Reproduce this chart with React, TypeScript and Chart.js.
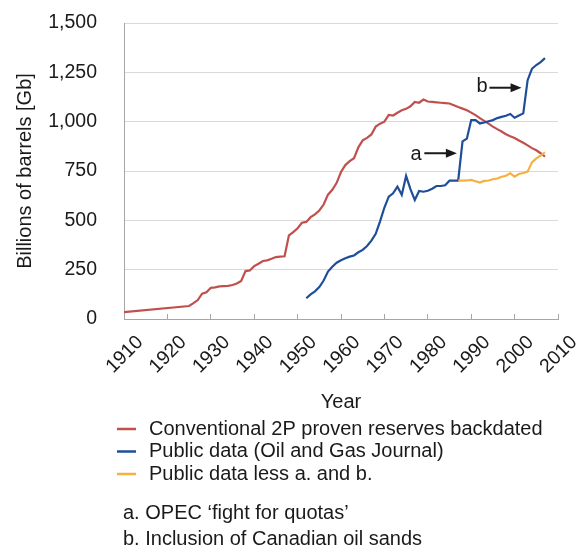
import { useEffect, useRef } from 'react';
import { Chart, registerables } from 'chart.js';

Chart.register(...registerables);

// ---- Data ----
const conventionalYears = [1910, 1925, 1926, 1927, 1928, 1929, 1930, 1931, 1932, 1933, 1934, 1935, 1936, 1937, 1938, 1939, 1940, 1941, 1942, 1943, 1944, 1945, 1946, 1947, 1948, 1949, 1950, 1951, 1952, 1953, 1954, 1955, 1956, 1957, 1958, 1959, 1960, 1961, 1962, 1963, 1964, 1965, 1966, 1967, 1968, 1969, 1970, 1971, 1972, 1973, 1974, 1975, 1976, 1977, 1978, 1979, 1980, 1981, 1982, 1983, 1984, 1985, 1986, 1987, 1988, 1989, 1990, 1991, 1992, 1993, 1994, 1995, 1996, 1997, 1998, 1999, 2000, 2001, 2002, 2003, 2004, 2005, 2006, 2007];
const conventionalValues = [35, 66, 80, 96, 128, 135, 158, 160, 165, 167, 168, 172, 180, 193, 243, 246, 268, 280, 294, 297, 305, 314, 316, 318, 424, 440, 460, 488, 492, 516, 530, 550, 580, 630, 655, 690, 745, 780, 800, 815, 870, 905, 918, 935, 975, 990, 1000, 1034, 1031, 1045, 1058, 1065, 1078, 1100, 1096, 1112, 1102, 1100, 1098, 1096, 1094, 1092, 1083, 1074, 1066, 1058, 1046, 1033, 1018, 1004, 990, 975, 962, 950, 936, 926, 917, 905, 893, 880, 866, 855, 840, 823];

const publicYears = [1952, 1953, 1954, 1955, 1956, 1957, 1958, 1959, 1960, 1961, 1962, 1963, 1964, 1965, 1966, 1967, 1968, 1969, 1970, 1971, 1972, 1973, 1974, 1975, 1976, 1977, 1978, 1979, 1980, 1981, 1982, 1983, 1984, 1985, 1986, 1987, 1988, 1989, 1990, 1991, 1992, 1993, 1994, 1995, 1996, 1997, 1998, 1999, 2000, 2001, 2002, 2003, 2004, 2005, 2006, 2007];
const publicValues = [105, 125, 140, 162, 195, 240, 265, 285, 298, 308, 316, 322, 338, 350, 370, 397, 432, 495, 565, 620, 637, 671, 629, 725, 658, 603, 649, 645, 650, 660, 674, 674, 678, 701, 701, 701, 900, 914, 1008, 1008, 991, 996, 1002, 1008, 1018, 1024, 1030, 1039, 1020, 1031, 1042, 1210, 1268, 1287, 1302, 1322];

const lessYears = [1987, 1988, 1989, 1990, 1991, 1992, 1993, 1994, 1995, 1996, 1997, 1998, 1999, 2000, 2001, 2002, 2003, 2004, 2005, 2006, 2007];
const lessValues = [701, 701, 702, 705, 698, 691, 700, 702, 708, 712, 721, 726, 738, 721, 735, 740, 747, 794, 814, 828, 845];

const seriesLabels = [
  'Conventional 2P proven reserves backdated',
  'Public data (Oil and Gas Journal)',
  'Public data less a. and b.',
];
const seriesColors = ['#c0504d', '#1f4e99', '#f6b040'];

const yTickValues = [0, 250, 500, 750, 1000, 1250, 1500];
const xTickYears = [1910, 1920, 1930, 1940, 1950, 1960, 1970, 1980, 1990, 2000, 2010];

const notes = ['a. OPEC \u2018fight for quotas\u2019', 'b. Inclusion of Canadian oil sands'];

// annotation arrows, in data coordinates (year, Gb)
const annotations = [
  { label: 'a', textX: 1977.3, textY: 833, fromX: 1979.2, toX: 1986.7, y: 840 },
  { label: 'b', textX: 1992.5, textY: 1176, fromX: 1994.2, toX: 2001.6, y: 1172 },
];

const FONT = '"Liberation Sans", Arial, Helvetica, sans-serif';
const FS = 19.5;
const FS_TEXT = 20;
const TEXT = '#1a1a1a';

const toPoints = (xs: number[], ys: number[]) => xs.map((x, i) => ({ x, y: ys[i] }));

const annotationPlugin = {
  id: 'arrowNotes',
  afterDatasetsDraw(chart: any) {
    const { ctx, scales } = chart;
    const xs = scales.x;
    const ys = scales.y;
    ctx.save();
    ctx.fillStyle = TEXT;
    ctx.strokeStyle = TEXT;
    ctx.font = `${FS_TEXT}px ${FONT}`;
    ctx.textAlign = 'center';
    ctx.textBaseline = 'middle';
    for (const a of annotations) {
      ctx.fillText(a.label, xs.getPixelForValue(a.textX), ys.getPixelForValue(a.textY));
      const x1 = xs.getPixelForValue(a.fromX);
      const x2 = xs.getPixelForValue(a.toX);
      const y = ys.getPixelForValue(a.y);
      ctx.lineWidth = 2;
      ctx.beginPath();
      ctx.moveTo(x1, y);
      ctx.lineTo(x2 - 8, y);
      ctx.stroke();
      ctx.beginPath();
      ctx.moveTo(x2, y);
      ctx.lineTo(x2 - 11, y - 4.5);
      ctx.lineTo(x2 - 11, y + 4.5);
      ctx.closePath();
      ctx.fill();
    }
    ctx.restore();
  },
};

const legendPlugin = {
  id: 'customLegend',
  afterDraw(chart: any) {
    const { ctx } = chart;
    ctx.save();
    ctx.font = `${FS_TEXT}px ${FONT}`;
    ctx.textBaseline = 'middle';
    ctx.textAlign = 'left';
    const rowY = [429, 451.5, 474];
    chart.data.datasets.forEach((ds: any, i: number) => {
      const y = rowY[i];
      ctx.strokeStyle = ds.borderColor;
      ctx.lineWidth = 2.5;
      ctx.beginPath();
      ctx.moveTo(117, y);
      ctx.lineTo(136, y);
      ctx.stroke();
      ctx.fillStyle = TEXT;
      ctx.fillText(ds.label, 149, y);
    });
    const noteY = [513, 539.5];
    notes.forEach((n, i) => {
      ctx.fillStyle = TEXT;
      ctx.fillText(n, 123, noteY[i]);
    });
    ctx.restore();
  },
};

export default function App() {
  const canvasRef = useRef<HTMLCanvasElement | null>(null);

  useEffect(() => {
    if (!canvasRef.current) return;
    const font = { family: FONT, size: FS };
    const titleFont = { family: FONT, size: FS_TEXT };
    const chart = new Chart(canvasRef.current, {
      type: 'line',
      data: {
        datasets: [
          { label: seriesLabels[0], data: toPoints(conventionalYears, conventionalValues), borderColor: seriesColors[0] },
          { label: seriesLabels[1], data: toPoints(publicYears, publicValues), borderColor: seriesColors[1] },
          { label: seriesLabels[2], data: toPoints(lessYears, lessValues), borderColor: seriesColors[2] },
        ].map((d, i) => ({
          ...d,
          borderWidth: 2.2,
          pointRadius: 0,
          tension: 0,
          fill: false,
          order: i === 2 ? 0 : i === 1 ? 1 : 2,
        })),
      },
      options: {
        animation: false,
        responsive: true,
        maintainAspectRatio: false,
        layout: { padding: { top: 23, right: 25, bottom: 134, left: 0 } },
        plugins: { legend: { display: false }, tooltip: { enabled: false } },
        scales: {
          x: {
            type: 'linear',
            min: 1910,
            max: 2010,
            afterFit: (s: any) => {
              s.height = 95;
              s.paddingLeft = 0;
              s.paddingRight = 0;
            },
            afterBuildTicks: (s: any) => { s.ticks = xTickYears.map((v) => ({ value: v })); },
            border: { display: true, color: '#a6a6a6', width: 1 },
            grid: { drawOnChartArea: false, drawTicks: true, tickLength: -5, color: '#a6a6a6' },
            ticks: {
              autoSkip: false,
              minRotation: 45,
              maxRotation: 45,
              labelOffset: 16,
              padding: 17,
              color: TEXT,
              font,
              callback: (v: any) => String(v),
            },
            title: { display: true, text: 'Year', color: TEXT, font: titleFont, padding: { top: 0, bottom: 0 } },
          },
          y: {
            min: 0,
            max: 1500,
            afterFit: (s: any) => {
              s.width = 124;
              s.paddingTop = 0;
              s.paddingBottom = 0;
            },
            afterBuildTicks: (s: any) => { s.ticks = yTickValues.map((v) => ({ value: v })); },
            border: { display: true, color: '#a6a6a6', width: 1 },
            grid: { drawTicks: false, color: '#d9d9d9', lineWidth: 1 },
            ticks: {
              padding: 27,
              color: TEXT,
              font,
              callback: (v: any) => Number(v).toLocaleString('en-US'),
            },
            title: { display: true, text: 'Billions of barrels [Gb]', color: TEXT, font: titleFont, padding: { top: 13, bottom: 0 } },
          },
        },
      },
      plugins: [annotationPlugin, legendPlugin],
    } as any);
    return () => chart.destroy();
  }, []);

  return (
    <div style={{ position: 'fixed', left: 0, top: 0, width: 583, height: 548, background: '#fff' }}>
      <canvas ref={canvasRef} />
    </div>
  );
}
